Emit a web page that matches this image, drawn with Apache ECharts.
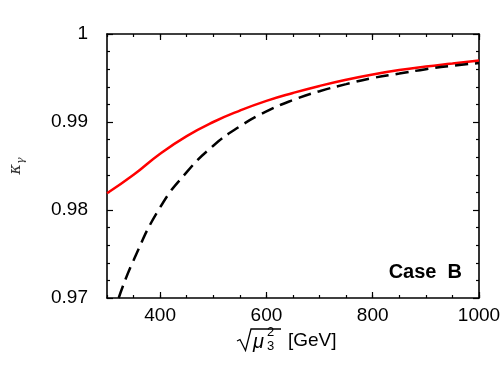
<!DOCTYPE html>
<html>
<head>
<meta charset="utf-8">
<script src="https://cdn.jsdelivr.net/npm/echarts@6/dist/echarts.min.js"></script>
<style>
  html, body { margin: 0; padding: 0; background: #fff; }
  #main { width: 504px; height: 378px; }
</style>
</head>
<body>
<div id="main"></div>
<script>
// values
var redX = [300, 350, 400, 450, 500, 550, 600, 650, 700, 750, 800, 850, 900, 950, 1000];
var redY = [0.9819, 0.9840, 0.9864, 0.9884, 0.9900, 0.9913, 0.9924, 0.9933, 0.9941, 0.9948, 0.9954, 0.9959, 0.9963, 0.99665, 0.9970];
var blackX = [322, 350, 400, 450, 500, 550, 600, 650, 700, 750, 800, 850, 900, 950, 1000];
var blackY = [0.9700, 0.9743, 0.9803, 0.9843, 0.9873, 0.9895, 0.9912, 0.9925, 0.9935, 0.9943, 0.9950, 0.9955, 0.9960, 0.9964, 0.9967];
var xMajor = [400, 600, 800, 1000];
var yTicks = ['0.97', '0.98', '0.99', '1'];

var font = 'Liberation Sans';

function pairs(xs, ys) {
    var out = [];
    for (var i = 0; i < xs.length; i++) out.push([xs[i], ys[i]]);
    return out;
}

var myChart = echarts.init(document.getElementById('main'));

var lineStyleAxis = { show: true, lineStyle: { color: '#000', width: 1.6 } };

function xAx(pos, major, labels, line) {
    return {
        type: 'value', position: pos, min: 300, max: 1000,
        interval: 50,
        axisLine: line ? lineStyleAxis : { show: false },
        axisTick: major
            ? { show: true, inside: true, length: 6, customValues: xMajor, lineStyle: { color: '#000', width: 1.2 } }
            : { show: true, inside: true, length: 3, lineStyle: { color: '#000', width: 1.2 } },
        axisLabel: labels
            ? {
                show: true, customValues: xMajor, margin: 8, color: '#000', fontFamily: font, fontSize: 19,
                formatter: function (v) { return String(v); }
            }
            : { show: false },
        splitLine: { show: false }
    };
}

function yAx(pos, labels) {
    return {
        type: 'value', position: pos, min: 0.97, max: 1, interval: 0.01,
        axisLine: lineStyleAxis,
        axisTick: { show: true, inside: true, length: 6, lineStyle: { color: '#000', width: 1.2 } },
        minorTick: { show: true, splitNumber: 5, length: 3, lineStyle: { color: '#000', width: 1.2 } },
        axisLabel: labels
            ? {
                show: true, margin: 19, color: '#000', fontFamily: font, fontSize: 19,
                formatter: function (v) {
                    var i = Math.round((v - 0.97) / 0.01);
                    return yTicks[i];
                }
            }
            : { show: false },
        splitLine: { show: false },
        minorSplitLine: { show: false },
        name: labels ? '{k|κ}{g|γ}' : '',
        nameLocation: 'middle',
        nameGap: 80,
        nameRotate: 90,
        nameTextStyle: {
            rich: {
                k: { fontFamily: 'DejaVu Serif', fontStyle: 'italic', fontSize: 16, color: '#333', lineHeight: 22, verticalAlign: 'middle' },
                g: { fontFamily: 'DejaVu Serif', fontStyle: 'italic', fontSize: 11, color: '#333', lineHeight: 22, verticalAlign: 'bottom' }
            }
        }
    };
}

var option = {
    animation: false,
    backgroundColor: '#fff',
    grid: { left: 95, right: 25, top: 34, bottom: 80 },
    xAxis: [
        xAx('bottom', true, true, true),
        xAx('bottom', false, false, false),
        xAx('top', true, false, true),
        xAx('top', false, false, false)
    ],
    yAxis: [yAx('left', true), yAx('right', false)],
    graphic: [
        // x axis title: sqrt(mu_3^2) [GeV]
        {
            type: 'polyline',
            shape: { points: [[237, 341], [240, 339.5], [245.5, 350.5], [251, 329], [281, 329]] },
            style: { stroke: '#000', fill: null, lineWidth: 1.3 }
        },
        { type: 'text', left: 253, top: 332, style: { text: 'μ', font: 'italic 20px "Liberation Sans"', fill: '#000' } },
        { type: 'text', left: 267, top: 326, style: { text: '2', font: '13px "Liberation Sans"', fill: '#000' } },
        { type: 'text', left: 267, top: 340, style: { text: '3', font: '13px "Liberation Sans"', fill: '#000' } },
        { type: 'text', left: 288, top: 331, style: { text: '[GeV]', font: '19px "Liberation Sans"', fill: '#000' } },
        { type: 'text', right: 42, top: 262, style: { text: 'Case  B', font: 'bold 20px "Liberation Sans"', fill: '#000' } }
    ],
    series: [
        {
            name: 'red', type: 'line', xAxisIndex: 0, yAxisIndex: 0,
            data: pairs(redX, redY), smooth: true, showSymbol: false, clip: true,
            lineStyle: { color: '#ff0000', width: 2.5 }
        },
        {
            name: 'black', type: 'line', xAxisIndex: 0, yAxisIndex: 0,
            data: pairs(blackX, blackY), smooth: true, showSymbol: false, clip: true,
            lineStyle: { color: '#000', width: 2.5, type: [13, 7] }
        }
    ]
};
myChart.setOption(option);
</script>
</body>
</html>
